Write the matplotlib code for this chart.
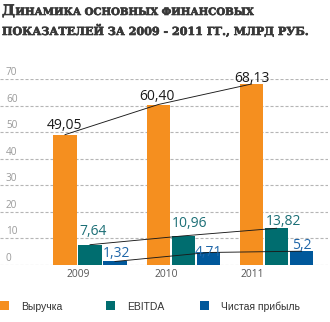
import matplotlib
matplotlib.use('Agg')
import matplotlib.pyplot as plt
from matplotlib.patches import Rectangle
import matplotlib.patheffects as pe

plt.rcParams['lines.scale_dashes'] = False

# ---- data ----
years = ['2009', '2010', '2011']
series_names = ['Выручка', 'EBITDA', 'Чистая прибыль']
revenue = [49.05, 60.40, 68.13]
ebitda = [7.64, 10.96, 13.82]
net_profit = [1.32, 4.71, 5.2]
revenue_labels = ['49,05', '60,40', '68,13']
ebitda_labels = ['7,64', '10,96', '13,82']
net_labels = ['1,32', '4,71', '5,2']
yticks = [0, 10, 20, 30, 40, 50, 60, 70]

# ---- styles / positions ----
colors = ['#F58F1F', '#006D6F', '#00589B']
label_colors = ['#1a1a1a', '#1c6f76', '#1f66a8']
# per-label pixel offsets (dx, dy) relative to bar top centre
label_dx = [[-1, -1.8, 0], [3.5, 6.7, 7], [1.2, 0, 0.6]]
label_dy = [[5.7, 4.5, 2.3], [9.7, 9.2, 3.3], [4.8, -3.5, 2.2]]
year_dx = [13, 7.7, 0.5]

W, H = 330, 322
fig = plt.figure(figsize=(W / 100, H / 100), dpi=100)


def fx(p):
    return p / W


def fy(p):
    return 1 - p / H


PX_PER_GROUP = 93.3
ax = fig.add_axes([0, fy(265), 328 / W, (265 - 79) / H])
ax.set_xlim(-65 / PX_PER_GROUP, (328 - 65) / PX_PER_GROUP)
ax.set_ylim(0, 70)
ax.set_axis_off()

for t in yticks:
    ax.axhline(t, color='#b5b5b5', lw=0.8, dashes=(2.2, 1.4), zorder=0)
    ax.annotate(str(t), (0, t), xycoords=('axes fraction', 'data'),
                xytext=(6, 4), textcoords='offset pixels', ha='left',
                va='baseline', fontsize=7.2, family='Open Sans',
                color='#9a9a9a')

width = 23.3 / PX_PER_GROUP
step = 25.0 / PX_PER_GROUP
all_vals = [revenue, ebitda, net_profit]
all_labels = [revenue_labels, ebitda_labels, net_labels]
for j, (vals, col) in enumerate(zip(all_vals, colors)):
    xs = [i + j * step for i in range(len(years))]
    ax.bar(xs, vals, width=width, color=col, linewidth=0, zorder=2)
    ax.plot(xs, vals, color='#1a1a1a', lw=0.65, zorder=3)
    for k, (x, v, lbl) in enumerate(zip(xs, vals, all_labels[j])):
        ax.annotate(lbl, (x, v), xytext=(label_dx[j][k], label_dy[j][k]),
                    textcoords='offset pixels', ha='center', va='baseline',
                    fontsize=10, family='Open Sans', color=label_colors[j],
                    zorder=4)

for i, y in enumerate(years):
    ax.annotate(y, (i, 0), xytext=(year_dx[i], -12.3), textcoords='offset pixels',
                ha='center', va='baseline', fontsize=7.4, family='Open Sans',
                color='#555555', annotation_clip=False)

# ---- title ----
title_color = '#383838'
heavy = [pe.withStroke(linewidth=0.45, foreground=title_color)]
t1 = fig.text(fx(2), fy(15), 'Д', fontsize=10.5, family='DejaVu Serif',
              weight='bold', va='baseline', ha='left', color=title_color,
              path_effects=heavy)
fig.canvas.draw()
r = fig.canvas.get_renderer()
bb = t1.get_window_extent(r)
fig.text(bb.x1 / W + fx(0.5), fy(15), 'ИНАМИКА ОСНОВНЫХ ФИНАНСОВЫХ',
         fontsize=7.3, family='DejaVu Serif', weight='bold', va='baseline',
         ha='left', color=title_color, path_effects=heavy)
fig.text(fx(2), fy(35), 'ПОКАЗАТЕЛЕЙ ЗА 2009 - 2011 ГГ., МЛРД РУБ.',
         fontsize=8.0, family='DejaVu Serif', weight='bold', va='baseline',
         ha='left', color=title_color, path_effects=heavy)

# ---- legend ----
leg_x = [0, 106, 200]
for name, col, x0 in zip(series_names, colors, leg_x):
    fig.patches.append(Rectangle((fx(x0), fy(310)), 9 / W, 9.3 / H,
                                 transform=fig.transFigure, color=col,
                                 linewidth=0))
    fig.text(fx(x0 + 21), fy(310), name, fontsize=7.5,
             family='Liberation Sans', color='#333333', va='baseline',
             ha='left')

fig.savefig('out.png', dpi=100)
